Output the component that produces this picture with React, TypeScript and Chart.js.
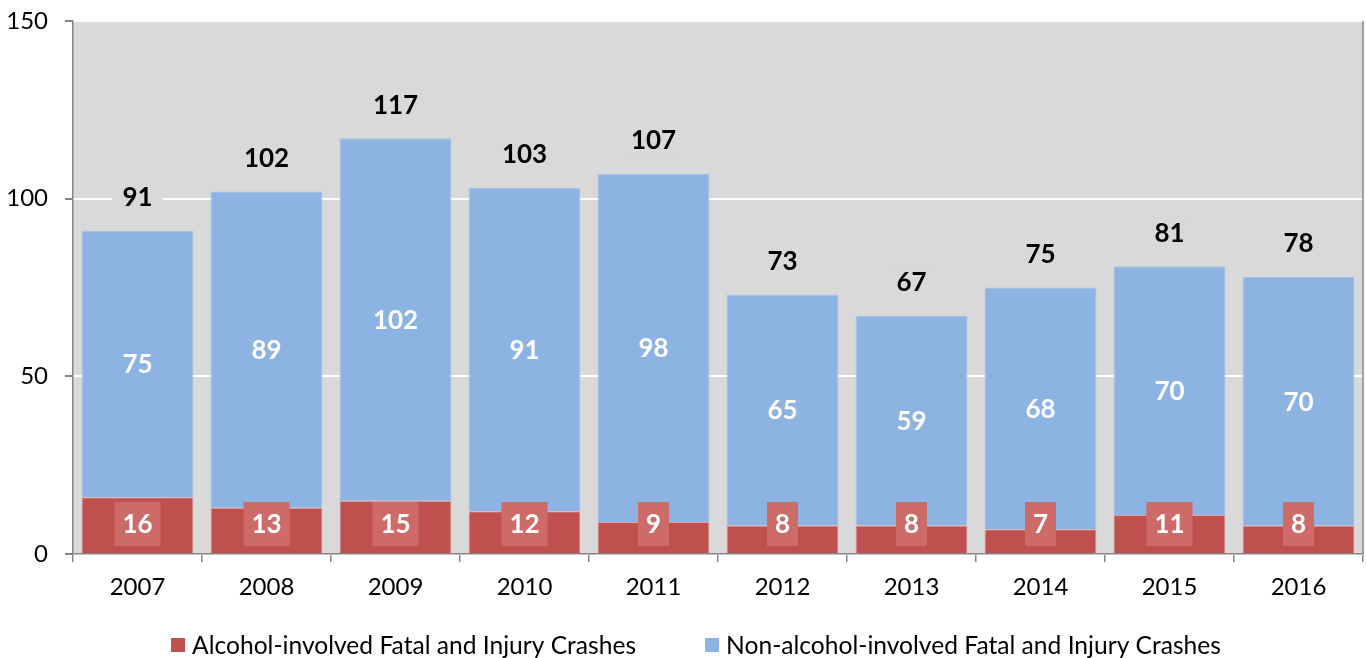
import React, { useEffect, useRef } from "react";
import { Chart, registerables } from "chart.js";

Chart.register(...registerables);

const years = ["2007", "2008", "2009", "2010", "2011", "2012", "2013", "2014", "2015", "2016"];
const alcoholCrashes = [16, 13, 15, 12, 9, 8, 8, 7, 11, 8];
const nonAlcoholCrashes = [75, 89, 102, 91, 98, 65, 59, 68, 70, 70];
const yTicks = [0, 50, 100, 150];
const seriesNames = [
  "Alcohol-involved Fatal and Injury Crashes",
  "Non-alcohol-involved Fatal and Injury Crashes",
];

const FONT = "Lato, 'Open Sans', sans-serif";
const RED = "#c0504d";
const RED_LABEL = "#cd6b69";
const BLUE = "#8db3e2";
const PLOT_BG = "#d9d9d9";
const AXIS = "#868686";

const decorPlugin = {
  id: "decor",
  beforeDraw(chart: any) {
    const { ctx, chartArea } = chart;
    ctx.save();
    ctx.fillStyle = PLOT_BG;
    ctx.fillRect(chartArea.left, chartArea.top, chartArea.right - chartArea.left, chartArea.bottom - chartArea.top);
    ctx.restore();
  },
  afterDatasetsDraw(chart: any) {
    const { ctx, chartArea } = chart;
    const redMeta = chart.getDatasetMeta(0);
    const blueMeta = chart.getDatasetMeta(1);
    ctx.save();
    ctx.textAlign = "center";
    ctx.textBaseline = "middle";
    ctx.font = `bold 26px ${FONT}`;
    years.forEach((_, i) => {
      const redEl = redMeta.data[i];
      const blueEl = blueMeta.data[i];
      const x = blueEl.x;
      // blue label
      ctx.fillStyle = "#ffffff";
      ctx.fillText(String(nonAlcoholCrashes[i]), x, (blueEl.y + blueEl.base) / 2 + 1);
      // red label box
      const redText = String(alcoholCrashes[i]);
      const tw = ctx.measureText(redText).width;
      const cy = chartArea.bottom - 30;
      ctx.fillStyle = RED_LABEL;
      ctx.fillRect(redEl.x - tw / 2 - 8, cy - 22, tw + 16, 44);
      ctx.fillStyle = "#ffffff";
      ctx.fillText(redText, redEl.x, cy + 1);
      // total label
      const total = String(alcoholCrashes[i] + nonAlcoholCrashes[i]);
      const ty = blueEl.y - 34;
      const ttw = ctx.measureText(total).width;
      ctx.fillStyle = PLOT_BG;
      ctx.fillRect(x - ttw / 2 - 10, ty - 15, ttw + 20, 30);
      ctx.fillStyle = "#000000";
      ctx.fillText(total, x, ty + 1);
    });
    // right border of plot
    ctx.strokeStyle = AXIS;
    ctx.lineWidth = 1.5;
    ctx.beginPath();
    ctx.moveTo(chartArea.right, chartArea.top);
    ctx.lineTo(chartArea.right, chartArea.bottom);
    ctx.stroke();
    ctx.restore();
  },
  afterDraw(chart: any) {
    const { ctx } = chart;
    const datasets = chart.data.datasets;
    ctx.save();
    ctx.font = `24.6px ${FONT}`;
    ctx.textBaseline = "middle";
    ctx.textAlign = "left";
    const box = 14;
    const gapBoxText = 7;
    const gapItems = 69;
    const widths = datasets.map((d: any) => box + gapBoxText + ctx.measureText(d.label).width);
    const total = widths.reduce((a: number, b: number) => a + b, 0) + gapItems * (datasets.length - 1);
    let x = 696 - total / 2;
    const y = 645;
    datasets.forEach((d: any, i: number) => {
      ctx.fillStyle = d.backgroundColor;
      ctx.fillRect(x, y - box / 2, box, box);
      ctx.fillStyle = "#000000";
      ctx.fillText(d.label, x + box + gapBoxText, y + 1);
      x += widths[i] + gapItems;
    });
    ctx.restore();
  },
};

export default function App() {
  const ref = useRef<HTMLCanvasElement | null>(null);
  useEffect(() => {
    if (!ref.current) return;
    const chart = new Chart(ref.current, {
      type: "bar",
      data: {
        labels: years,
        datasets: [
          {
            label: seriesNames[0],
            data: alcoholCrashes,
            backgroundColor: RED,
            borderColor: "#e3a3a1",
            borderWidth: 1,
            barPercentage: 0.868,
            categoryPercentage: 1,
          },
          {
            label: seriesNames[1],
            data: nonAlcoholCrashes,
            backgroundColor: BLUE,
            borderColor: "#a6c3e8",
            borderWidth: 1,
            barPercentage: 0.868,
            categoryPercentage: 1,
          },
        ],
      },
      options: {
        responsive: false,
        animation: false,
        layout: { padding: { top: 21, right: 3, bottom: 56, left: 0 } },
        plugins: {
          legend: { display: false },
          tooltip: { enabled: false },
        },
        scales: {
          x: {
            stacked: true,
            offset: true,
            grid: {
              display: true,
              drawOnChartArea: false,
              drawTicks: true,
              tickLength: 8,
              tickColor: AXIS,
              offset: true,
              lineWidth: 1.5,
            },
            border: { color: AXIS, width: 1.5 },
            ticks: { color: "#000000", font: { family: FONT, size: 24 }, padding: 11 },
            afterFit(scale: any) {
              scale.height = 48;
              scale.paddingLeft = 0;
              scale.paddingRight = 0;
            },
          },
          y: {
            stacked: true,
            min: 0,
            max: 150,
            afterBuildTicks(scale: any) {
              scale.ticks = yTicks.map((v) => ({ value: v }));
            },
            grid: {
              color: "#ffffff",
              lineWidth: 2,
              tickColor: AXIS,
              tickLength: 8,
              drawTicks: true,
            },
            border: { color: AXIS, width: 1.5 },
            ticks: { color: "#000000", font: { family: FONT, size: 24 }, padding: 17 },
            afterFit(scale: any) {
              scale.width = 73;
              scale.paddingTop = 0;
              scale.paddingBottom = 0;
            },
          },
        },
      },
      plugins: [decorPlugin],
    });
    return () => chart.destroy();
  }, []);
  return (
    <div style={{ position: "absolute", left: 0, top: 0, width: 1366, height: 658, background: "#ffffff" }}>
      <canvas ref={ref} width={1366} height={658} style={{ display: "block" }} />
    </div>
  );
}
